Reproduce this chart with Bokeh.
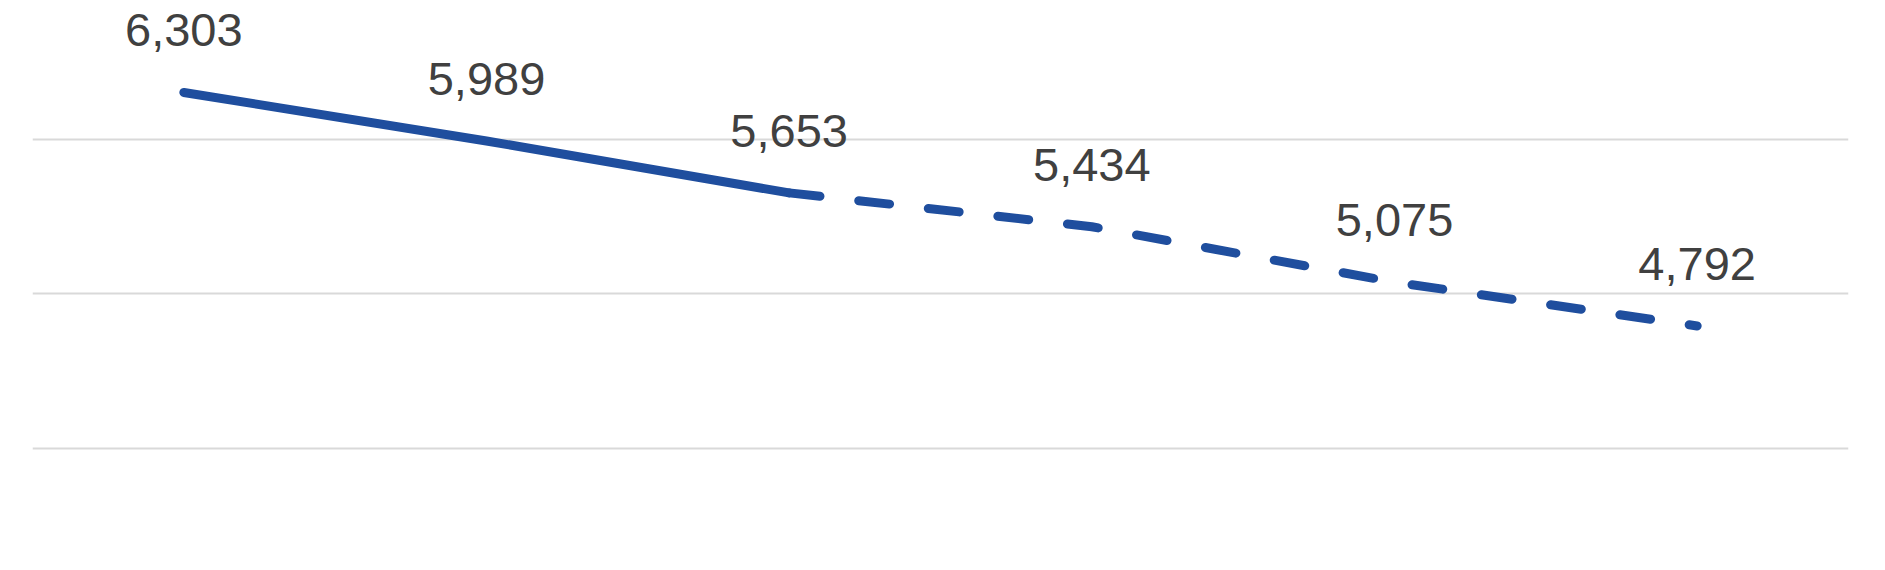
from bokeh.plotting import figure
from bokeh.models import ColumnDataSource, Grid, FixedTicker, Range1d
from bokeh.core.properties import value
from bokeh.embed import file_html
from bokeh.resources import INLINE

# Data
categories = ["1", "2", "3", "4", "5", "6"]
values = [6303, 5989, 5653, 5434, 5075, 4792]
labels = ["6,303", "5,989", "5,653", "5,434", "5,075", "4,792"]
grid_ticks = [4000, 5000, 6000, 7000]
solid_upto = 3  # first 3 points solid, remainder dashed

x_pos = [i + 0.5 for i in range(len(categories))]

p = figure(width=1877, height=562, output_backend="svg", toolbar_location=None,
           x_axis_type=None, y_axis_type=None,
           x_range=Range1d(0, len(categories)), y_range=Range1d(3261, 6898),
           min_border_left=32, min_border_right=29, min_border_top=0, min_border_bottom=0)
p.outline_line_color = None
p.background_fill_color = "white"
p.border_fill_color = "white"

p.add_layout(Grid(dimension=1, ticker=FixedTicker(ticks=grid_ticks),
                  grid_line_color="#d9d9d9", grid_line_width=2))

color = "#1f4e9e"
p.line(x_pos[:solid_upto], values[:solid_upto], line_color=color, line_width=9,
       line_cap="round", line_join="round")
p.line(x_pos[solid_upto - 1:], values[solid_upto - 1:], line_color=color, line_width=9,
       line_cap="round", line_join="round", line_dash="31 39")

src = ColumnDataSource(dict(x=x_pos, y=values, t=labels))
p.text(x="x", y="y", text="t", source=src, text_align="center", text_baseline="middle",
       y_offset=-62, text_font=value("Liberation Sans"), text_font_size="47px",
       text_color="#404040")

open("out.html", "w").write(file_html(p, INLINE))
